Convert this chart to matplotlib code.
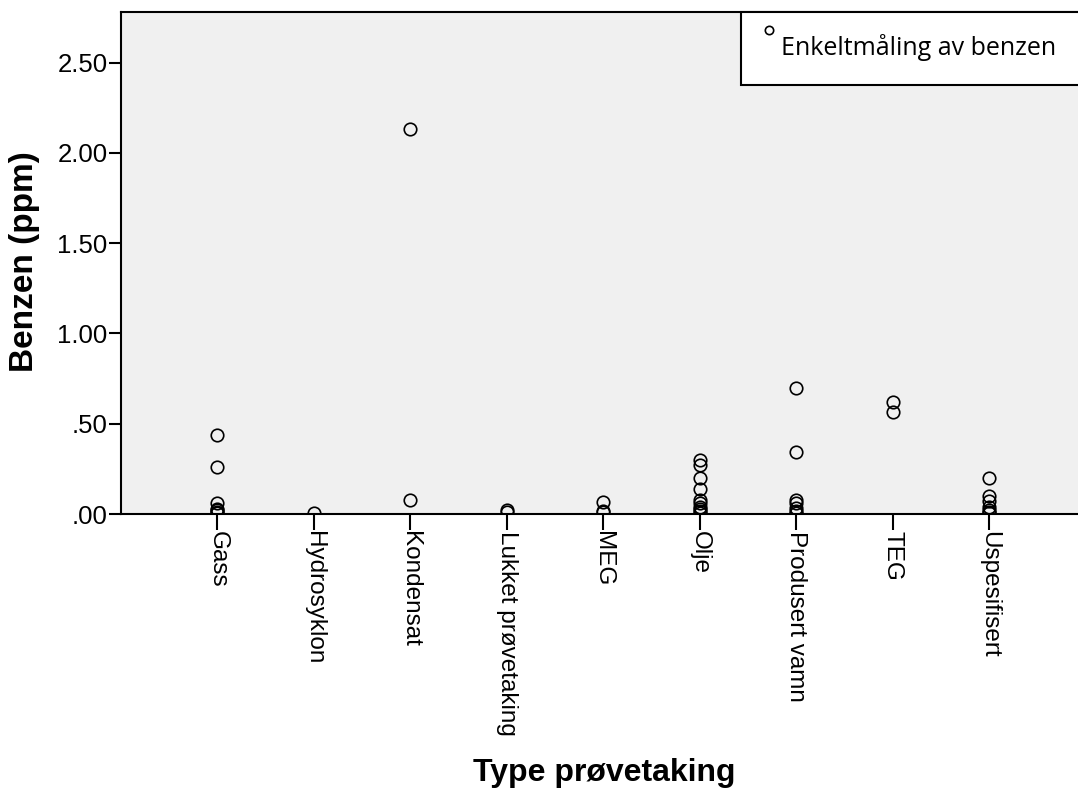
import matplotlib.pyplot as plt
from matplotlib.patches import Rectangle

categories = ["Gass", "Hydrosyklon", "Kondensat", "Lukket prøvetaking", "MEG",
              "Olje", "Produsert vamn", "TEG", "Uspesifisert"]

gass = [0.44, 0.26, 0.06, 0.03, 0.02, 0.01, 0.005]
hydrosyklon = [0.005]
kondensat = [2.13, 0.075]
lukket = [0.02, 0.01]
meg = [0.065, 0.015, 0.01]
olje = [0.30, 0.27, 0.20, 0.14, 0.08, 0.06, 0.04, 0.025, 0.015, 0.005]
produsert = [0.70, 0.345, 0.075, 0.06, 0.035, 0.015, 0.005]
teg = [0.62, 0.565]
uspesifisert = [0.20, 0.10, 0.07, 0.04, 0.02, 0.01, 0.005]

values = [gass, hydrosyklon, kondensat, lukket, meg, olje, produsert, teg, uspesifisert]

yticks = [0, 0.5, 1.0, 1.5, 2.0, 2.5]
ytick_labels = [".00", ".50", "1.00", "1.50", "2.00", "2.50"]

plt.rcParams['font.family'] = ['Liberation Sans', 'DejaVu Sans']

fig = plt.figure(figsize=(10.78, 7.92), dpi=100)
ax = fig.add_axes([121 / 1078, 278 / 792, 957 / 1078, 502 / 792])
ax.set_facecolor("#f0f0f0")

for i, vals in enumerate(values):
    ax.plot([i] * len(vals), vals, linestyle="none", marker="o", markersize=9,
            markerfacecolor="none", markeredgecolor="black", markeredgewidth=1.2)

ax.set_xlim(-1, 8.92)
ax.set_ylim(0, 2.78)
ax.set_xticks(range(len(categories)))
ax.set_xticklabels(categories, rotation=270, fontsize=17.5)
ax.set_yticks(yticks)
ax.set_yticklabels(ytick_labels, fontsize=18.5)
ax.tick_params(axis="y", direction="out", length=8.6, width=1.5, pad=1)
ax.tick_params(axis="x", direction="out", length=11.5, width=1.5, pad=1)

for s in ["left", "top", "bottom"]:
    ax.spines[s].set_linewidth(1.5)
ax.spines["right"].set_visible(False)

fig.text(25 / 1078, 1 - 262 / 792, "Benzen (ppm)", rotation=90, ha="center",
         va="center", fontsize=24, fontweight="bold")
fig.text(604 / 1078, 1 - 773 / 792, "Type prøvetaking", ha="center",
         va="center", fontsize=23, fontweight="bold")

# legend box
ax.add_patch(Rectangle((0.648, 0.855), 0.36, 0.145, transform=ax.transAxes,
                       facecolor="white", edgecolor="black", linewidth=1.5,
                       clip_on=False, zorder=5))
ax.plot([0.677], [0.964], transform=ax.transAxes, linestyle="none", marker="o",
        markersize=6, markerfacecolor="none", markeredgecolor="black",
        markeredgewidth=1.2, zorder=6, clip_on=False)
ax.text(0.690, 0.930, "Enkeltmåling av benzen", transform=ax.transAxes,
        ha="left", va="center", fontsize=18, family=["Open Sans", "DejaVu Sans"],
        zorder=6)

fig.savefig("out.png", dpi=100)
